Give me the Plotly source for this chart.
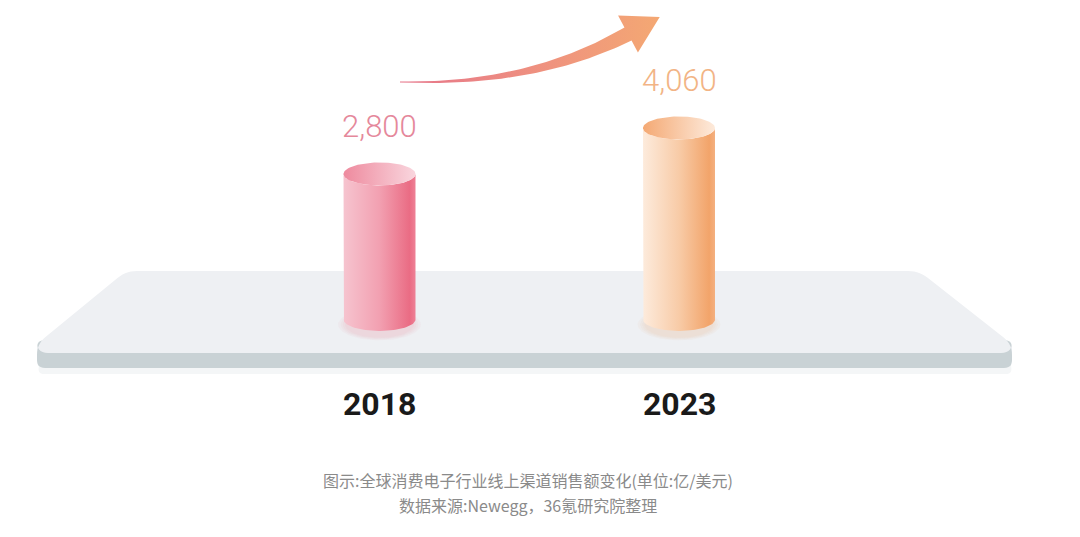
import numpy as np
import plotly.graph_objects as go

# ---------------- data ----------------
years = ["2018", "2023"]
sales = [2800, 4060]
caption_lines = [
    "图示:全球消费电子行业线上渠道销售额变化(单位:亿/美元)",
    "数据来源:Newegg，36氪研究院整理",
]

# ---------------- styles ----------------
value_colors = ["#e5889b", "#f2b485"]
body_scales = [
    [[0, "#f6c4cf"], [0.5, "#f2a0b1"], [0.92, "#ea6c84"], [1, "#ee8196"]],
    [[0, "#fdebdc"], [0.5, "#f8cba7"], [0.92, "#f2a46a"], [1, "#f4b080"]],
]
top_scales = [
    [[0, "#ee8a9e"], [1, "#f9d6de"]],
    [[0, "#f4a974"], [1, "#fdeadb"]],
]
glow_colors = ["rgba(236,110,135,0.05)", "rgba(243,165,107,0.05)"]

W, H = 1080, 537
X0_PX, DX_PX = 379.5, 299.5        # pixel column of first category, spacing
K_PX, C_PX = 0.03651, 276.2         # px per value unit, pixel row of value 0
BASE = -1186                        # cylinder floor (value units)
HALF_W = 36 / DX_PX
RY = 11.5 / K_PX

fig = go.Figure()


def P(px, py):
    return px / W, 1 - py / H


def path(points, close=True):
    s = ""
    for j, (px, py) in enumerate(points):
        x, y = P(px, py)
        s += ("M" if j == 0 else "L") + f"{x:.5f},{y:.5f} "
    return s + ("Z" if close else "")


def rounded_poly(pts, r):
    out = []
    n = len(pts)
    for j in range(n):
        p0 = np.array(pts[j - 1], float)
        p1 = np.array(pts[j], float)
        p2 = np.array(pts[(j + 1) % n], float)
        v1 = (p0 - p1) / np.linalg.norm(p0 - p1)
        v2 = (p2 - p1) / np.linalg.norm(p2 - p1)
        a = p1 + v1 * r
        b = p1 + v2 * r
        for t in np.linspace(0, 1, 8):
            q = (1 - t) ** 2 * a + 2 * (1 - t) * t * p1 + t ** 2 * b
            out.append(tuple(q))
    return out


shapes = []
shapes.append(dict(type="path", xref="paper", yref="paper", layer="below",
                   path=path(rounded_poly([(40, 356), (1010, 356), (1012, 374), (38, 374)], 6)),
                   fillcolor="#f4f6f7", line=dict(width=0)))
shapes.append(dict(type="path", xref="paper", yref="paper", layer="below",
                   path=path(rounded_poly([(37, 340), (1012, 340), (1012, 368), (37, 368)], 8)),
                   fillcolor="#c9d2d5", line=dict(width=0)))
shapes.append(dict(type="path", xref="paper", yref="paper", layer="below",
                   path=path(rounded_poly([(126, 271), (919, 271), (1012, 344), (1012, 353),
                                           (37, 353), (37, 344)], 11)),
                   fillcolor="#eef0f3", line=dict(width=0)))

# ---------------- arrow (decoration, pixel axes) ----------------
P0 = np.array([400.0, 82.0])
P1 = np.array([531.0, 86.0])
P2 = np.array([628.0, 34.0])
ts = np.linspace(0, 1, 60)
curve = np.array([(1 - t) ** 2 * P0 + 2 * (1 - t) * t * P1 + t ** 2 * P2 for t in ts])
deriv = np.array([2 * (1 - t) * (P1 - P0) + 2 * t * (P2 - P1) for t in ts])
tang = deriv / np.linalg.norm(deriv, axis=1)[:, None]
norm = np.stack([-tang[:, 1], tang[:, 0]], axis=1)
hw = 0.5 + 7.0 * ts ** 1.3
side_a = curve + norm * hw[:, None]
side_b = curve - norm * hw[:, None]
tN = tang[-1]
nN = norm[-1]
head_a = P2 + nN * 21
head_b = P2 - nN * 21
tip = P2 + tN * 36
poly = np.vstack([side_a, head_a, tip, head_b, side_b[::-1]])
fig.add_trace(go.Scatter(
    x=poly[:, 0], y=poly[:, 1], mode="lines", fill="toself",
    line=dict(width=0), hoverinfo="skip", showlegend=False,
    fillgradient=dict(type="horizontal",
                      colorscale=[[0, "#e6758a"], [0.5, "#ee8f80"], [1, "#f4a873"]]),
    xaxis="x", yaxis="y"))

# ---------------- cylinders (data axes) ----------------
for i, (yr, v) in enumerate(zip(years, sales)):
    cx = i
    for s in [1.15, 1.08, 1.02, 0.96]:
        t = np.linspace(0, 2 * np.pi, 80)
        fig.add_trace(go.Scatter(
            x=cx + HALF_W * s * np.cos(t),
            y=BASE - 5 / K_PX + RY * 1.2 * s * np.sin(t),
            mode="lines", fill="toself", fillcolor=glow_colors[i],
            line=dict(width=0), hoverinfo="skip", showlegend=False,
            xaxis="x2", yaxis="y2"))
    t = np.linspace(0, np.pi, 60)
    bx = list(cx - HALF_W * np.cos(t))
    by = list(BASE - RY * np.sin(t))
    tx = list(cx + HALF_W * np.cos(t))
    ty = list(v - RY * np.sin(t))
    fig.add_trace(go.Scatter(
        x=[cx - HALF_W] + bx + tx, y=[v] + by + ty,
        mode="lines", fill="toself", line=dict(width=0),
        fillgradient=dict(type="horizontal", colorscale=body_scales[i]),
        hoverinfo="skip", showlegend=False, xaxis="x2", yaxis="y2"))
    t = np.linspace(0, 2 * np.pi, 100)
    fig.add_trace(go.Scatter(
        x=cx + HALF_W * np.cos(t), y=v + RY * np.sin(t),
        mode="lines", fill="toself", line=dict(width=0),
        fillgradient=dict(type="horizontal", colorscale=top_scales[i]),
        hoverinfo="skip", showlegend=False, xaxis="x2", yaxis="y2"))

annotations = []
for i, (yr, v) in enumerate(zip(years, sales)):
    annotations.append(dict(
        x=i, y=v, xref="x2", yref="y2", yshift=47, showarrow=False,
        text=f"{v:,}", xanchor="center", yanchor="middle",
        font=dict(family="Roboto, sans-serif", size=31, weight=300,
                  color=value_colors[i])))
    annotations.append(dict(
        x=i, y=P(0, 404)[1], xref="x2", yref="paper", showarrow=False,
        text=yr, xanchor="center", yanchor="middle",
        font=dict(family="Roboto, sans-serif", size=32, weight=700,
                  color="#1a1a1a")))

for j, (line, py) in enumerate(zip(caption_lines, [480, 505])):
    annotations.append(dict(
        x=P(528, 0)[0], y=P(0, py)[1], xref="paper", yref="paper", showarrow=False,
        text=line, xanchor="center", yanchor="middle",
        font=dict(family="Noto Sans CJK SC, sans-serif", size=16, color="#8a8a8a")))

fig.update_layout(
    width=W, height=H, margin=dict(l=0, r=0, t=0, b=0),
    paper_bgcolor="white", plot_bgcolor="rgba(0,0,0,0)",
    showlegend=False, shapes=shapes, annotations=annotations,
    xaxis=dict(range=[0, W], visible=False, domain=[0, 1], fixedrange=True),
    yaxis=dict(range=[H, 0], visible=False, domain=[0, 1], fixedrange=True),
    xaxis2=dict(range=[-X0_PX / DX_PX, (W - X0_PX) / DX_PX], overlaying="x",
                anchor="y2", visible=False, fixedrange=True),
    yaxis2=dict(range=[(C_PX - H) / K_PX, C_PX / K_PX], overlaying="y",
                anchor="x2", visible=False, fixedrange=True),
)

fig.write_html("out.html", config=dict(displayModeBar=False),
               post_script="document.body.style.margin='0';document.body.style.overflow='hidden';")
